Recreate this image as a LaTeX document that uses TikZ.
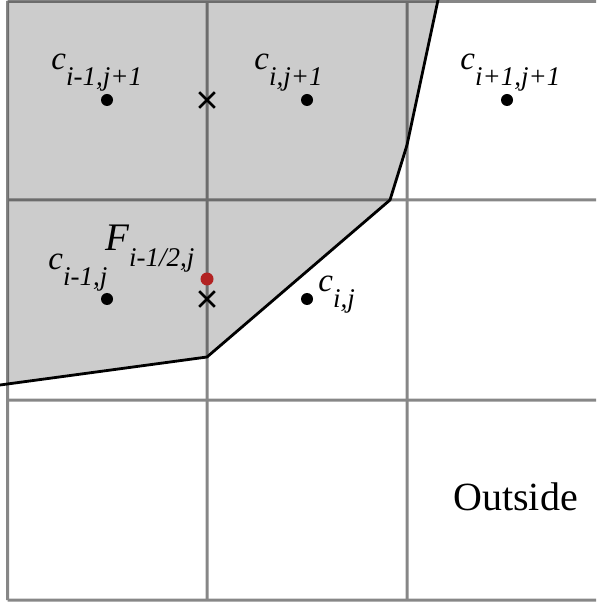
\documentclass[tikz,border=0pt]{standalone}
\usepackage{fontspec}
\setmainfont{Liberation Serif}
\usetikzlibrary{shapes.misc}
\definecolor{fillgray}{RGB}{204,204,204}
\definecolor{reddot}{RGB}{178,34,34}
\newcommand\mysub[1]{\raisebox{-8pt}{\fontsize{13.5}{15}\selectfont\itshape #1}}
\begin{document}
\begin{tikzpicture}[x=0.5pt,y=-0.5pt,
  gridline/.style={draw=black,line width=1.5pt},
  boundary/.style={draw=black,line width=1.4pt},
  center/.style={circle,fill=black,inner sep=0pt,minimum size=6pt},
  facept/.style={circle,fill=reddot,inner sep=0pt,minimum size=6.5pt},
  xmark/.style={cross out,draw=black,line width=1.3pt,inner sep=0pt,minimum size=6.5pt},
  lab/.style={anchor=base west,inner sep=0pt,font=\fontsize{16.5}{18}\selectfont\itshape},
  biglab/.style={anchor=base west,inner sep=0pt,font=\fontsize{19.5}{22}\selectfont\itshape},
  outlab/.style={anchor=base west,inner sep=0pt,font=\fontsize{20}{22}\selectfont},
  ]
\useasboundingbox (0,0) rectangle (596,603);
% fluid region
\fill[fillgray] (7.5,1) -- (438,1) -- (407,145) -- (390,200) -- (207,357) -- (7.5,384) -- cycle;
% grid
\begin{scope}[transparency group, opacity=0.47]
\foreach \x in {7.5,207,407} \draw[gridline] (\x,1) -- (\x,600);
\foreach \y in {1.5,200,400,600} \draw[gridline] (7.5,\y) -- (596,\y);
\end{scope}
% boundary
\coordinate (b0) at (438,0);
\coordinate (b1) at (407,145);
\coordinate (b2) at (390,200);
\coordinate (b3) at (207,357);
\coordinate (b4) at (0,385);
\draw[boundary,line join=miter] (b0) -- (b1) -- (b2) -- (b3) -- (b4);
% cell centres
\node[center] (c1) at (107,100) {};
\node[center] (c2) at (307,100) {};
\node[center] (c3) at (507,100) {};
\node[center] (c4) at (107,299) {};
\node[center] (c5) at (307,299) {};
% face centres
\node[xmark] (x1) at (207,100) {};
\node[xmark] (x2) at (207,299) {};
\node[facept] (f) at (207,279) {};
% labels
\node[lab] (l1) at (51,70) {c\mysub{i-1,j+1}};
\node[lab] (l2) at (254,70) {c\mysub{i,j+1}};
\node[lab] (l3) at (460,70) {c\mysub{i+1,j+1}};
\node[lab] (l4) at (48,270) {c\mysub{i-1,j}};
\node[biglab] (lf) at (105,251) {F\mysub{i-1/2,j}};
\node[lab] (l5) at (318,292) {c\mysub{i,j}};
\node[outlab] (lo) at (453,510) {Outside};
\end{tikzpicture}
\end{document}
